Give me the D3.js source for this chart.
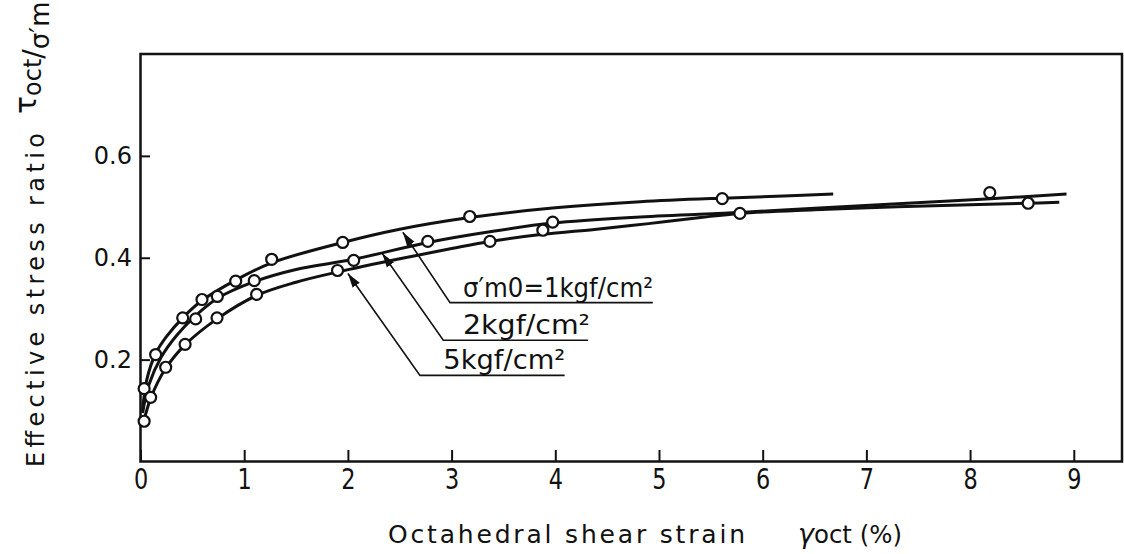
<!DOCTYPE html>
<html>
<head>
<meta charset="utf-8">
<script src="https://cdn.jsdelivr.net/npm/d3@7"></script>
<style>
  body { margin: 0; background: #fff; }
  text { font-family: "DejaVu Sans", sans-serif; fill: #111; }
  .tick line { stroke: #111; stroke-width: 2; }
</style>
</head>
<body>
<svg id="chart" width="1124" height="554"></svg>
<script>
// tick labels
const xTicks = [0, 1, 2, 3, 4, 5, 6, 7, 8, 9];
const yTicks = [0.2, 0.4, 0.6];

// measured points (open circles), [strain %, stress ratio]
const pts1 = [[0.035,0.143],[0.146,0.210],[0.407,0.282],[0.593,0.318],[0.918,0.354],[1.265,0.397],[1.95,0.430],[3.175,0.481],[5.61,0.516]];
const pts2 = [[0.532,0.280],[0.741,0.324],[1.097,0.355],[2.056,0.395],[2.77,0.432],[3.975,0.470],[8.19,0.528]];
const pts5 = [[0.035,0.079],[0.098,0.126],[0.243,0.185],[0.43,0.230],[0.738,0.282],[1.12,0.328],[1.90,0.375],[3.37,0.432],[3.88,0.454],[5.78,0.487],[8.56,0.507]];

// fitted curves drawn through the points
const curve1 = [[0.02,0.10],[0.06,0.16],[0.146,0.212],[0.25,0.245],[0.407,0.282],[0.593,0.316],[0.918,0.356],[1.265,0.390],[1.95,0.430],[2.5,0.456],[3.175,0.479],[4.0,0.498],[4.82,0.510],[5.61,0.517],[6.2,0.521],[6.68,0.525]];
const curve2 = [[0.02,0.095],[0.08,0.15],[0.2,0.205],[0.35,0.248],[0.53,0.286],[0.74,0.320],[1.097,0.353],[1.5,0.377],[2.056,0.397],[2.77,0.430],[3.4,0.452],[3.975,0.468],[4.82,0.480],[5.78,0.489],[6.5,0.497],[7.3,0.506],[8.2,0.516],[8.93,0.525]];
const curve5 = [[0.02,0.07],[0.1,0.125],[0.243,0.183],[0.43,0.229],[0.738,0.280],[1.12,0.326],[1.5,0.352],[1.9,0.372],[2.5,0.398],[3.0,0.418],[3.37,0.432],[3.88,0.446],[4.4,0.456],[4.9,0.467],[5.4,0.479],[5.78,0.487],[6.5,0.494],[7.3,0.500],[8.0,0.504],[8.56,0.507],[8.86,0.509]];

const labels = ["σ′m0=1kgf/cm²", "2kgf/cm²", "5kgf/cm²"];

var svg = d3.select("#chart");

var x = d3.scaleLinear().domain([0, 9.465]).range([140.5, 1122]);
var y = d3.scaleLinear().domain([0, 0.8]).range([461.5, 54]);

// axes with inward ticks
var xAxis = svg.append("g")
  .attr("transform", "translate(0,462)")
  .call(d3.axisBottom(x).tickValues(xTicks).tickSizeInner(-12).tickSizeOuter(0).tickPadding(7).tickFormat(d3.format("d")));
xAxis.select(".domain").remove();
// narrow lettering like the drawing
xAxis.selectAll(".tick text").style("font-size", "28px").attr("transform", "scale(0.8,1)");

var yAxis = svg.append("g")
  .attr("transform", "translate(140,0)")
  .call(d3.axisLeft(y).tickValues(yTicks).tickSizeInner(-10).tickSizeOuter(0).tickPadding(8).tickFormat(d3.format(".1f")));
yAxis.select(".domain").remove();
yAxis.selectAll("text").style("font-size", "24px");

// frame
svg.append("rect")
  .attr("x", x(0)).attr("y", y(0.8))
  .attr("width", x(9.465) - x(0)).attr("height", y(0) - y(0.8))
  .attr("fill", "none").attr("stroke", "#111").attr("stroke-width", 2.5);

// curves
var line = d3.line().x(d => x(d[0])).y(d => y(d[1])).curve(d3.curveCatmullRom.alpha(0.5));
[curve1, curve2, curve5].forEach(function(c){
  svg.append("path").datum(c)
    .attr("d", line)
    .attr("fill", "none").attr("stroke", "#111").attr("stroke-width", 3);
});

// points
[pts1, pts2, pts5].forEach(function(p){
  svg.selectAll(null).data(p).enter().append("circle")
    .attr("cx", d => x(d[0])).attr("cy", d => y(d[1]))
    .attr("r", 5.5)
    .attr("fill", "#fff").attr("stroke", "#111").attr("stroke-width", 2.2);
});

// leader lines with arrows and underlined labels
svg.append("defs").append("marker")
  .attr("id", "arr").attr("viewBox", "0 0 10 10")
  .attr("refX", 10).attr("refY", 5)
  .attr("markerWidth", 9).attr("markerHeight", 9)
  .attr("orient", "auto-start-reverse")
  .append("path").attr("d", "M0,2 L10,5 L0,8 Z").attr("fill", "#111");

var notes = [
  {tip: [2.53, 0.450], elbow: [2.985, 0.312], end: 4.94, tx: 3.11, ty: 0.322, len: 190},
  {tip: [2.33, 0.409], elbow: [2.92, 0.238], end: 4.315, tx: 3.11, ty: 0.251, len: 127},
  {tip: [2.00, 0.369], elbow: [2.695, 0.169], end: 4.09, tx: 2.92, ty: 0.182, len: 122}
];
notes.forEach(function(n, i){
  svg.append("path")
    .attr("d", "M" + x(n.end) + "," + y(n.elbow[1]) + " L" + x(n.elbow[0]) + "," + y(n.elbow[1]) + " L" + x(n.tip[0]) + "," + y(n.tip[1]))
    .attr("fill", "none").attr("stroke", "#111").attr("stroke-width", 1.6)
    .attr("marker-end", "url(#arr)");
  svg.append("text")
    .attr("x", x(n.tx)).attr("y", y(n.ty))
    .attr("textLength", n.len).attr("lengthAdjust", "spacingAndGlyphs")
    .style("font-size", "26px")
    .text(labels[i]);
});

// axis titles
svg.append("text")
  .attr("transform", "translate(44,467) rotate(-90)")
  .attr("textLength", 334).attr("lengthAdjust", "spacing")
  .style("font-size", "24px")
  .text("Effective  stress  ratio");

var yt = svg.append("text")
  .attr("transform", "translate(36,114) rotate(-90)")
  .style("font-size", "30px");
yt.append("tspan").text("τ");
yt.append("tspan").attr("dy", 5).style("font-size", "24px").text("oct");
yt.append("tspan").attr("dy", 2).style("font-size", "28px").text("/");
yt.append("tspan").attr("dy", 6).style("font-size", "26px").text("σ′m");

svg.append("text")
  .attr("x", 388).attr("y", 543)
  .attr("textLength", 357).attr("lengthAdjust", "spacing")
  .style("font-size", "25px")
  .text("Octahedral  shear  strain");

var xt = svg.append("text")
  .attr("x", 798).attr("y", 543)
  .style("font-size", "24px");
xt.append("tspan").style("font-style", "italic").style("font-size", "27px").text("γ");
xt.append("tspan").attr("textLength", 88).attr("lengthAdjust", "spacingAndGlyphs").text("oct (%)");
</script>
</body>
</html>
